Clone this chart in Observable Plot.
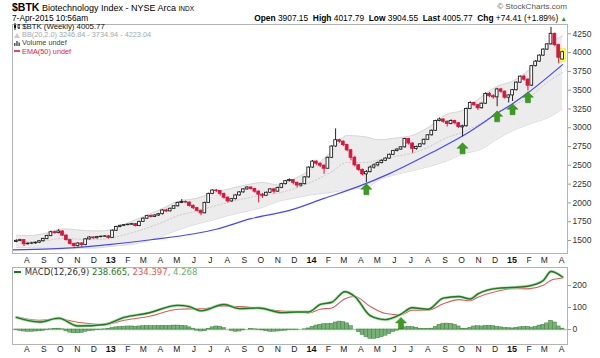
<!DOCTYPE html>
<html><head><meta charset="utf-8">
<script src="https://cdn.jsdelivr.net/npm/d3@7"></script>
<script src="https://cdn.jsdelivr.net/npm/@observablehq/plot@0.6"></script>
<style>
body{margin:0;width:600px;height:358px;overflow:hidden;background:#fff;font-family:"Liberation Sans",Arial,sans-serif;position:relative}
.abs{position:absolute;white-space:nowrap}
svg{display:block}
</style></head><body>
<div id="main" class="abs" style="left:0;top:20px"></div>
<div id="macd" class="abs" style="left:0;top:266px"></div>
<div id="overlay"></div>
<script>
// ---------- header / legend texts ----------
const symbolName = "$BTK";
const titleText = "Biotechnology Index - NYSE Arca";
const exchangeText = "INDX";
const dateText = "7-Apr-2015 10:56am";
const quoteLabels = ["Open", "High", "Low", "Last", "Chg"];
const quoteValues = ["3907.15", "4017.79", "3904.55", "4005.77", "+74.41 (+1.89%)"];
const legendMain = ["$BTK (Weekly) 4005.77", "BB(20,2.0) 3246.84 - 3734.94 - 4223.04", "Volume undef", "EMA(50) undef"];
const macdLegend = ["MACD(12,26,9)", "238.665,", "234.397,", "4.268"];

// ---------- weekly candles (Fridays 2012-07-13 .. 2015-04-03) ----------
const firstWeek = "2012-07-13", lastWeekStop = "2015-04-04";
const opens = [1480,1495,1505,1450,1458,1462,1470,1490,1520,1560,
1610,1598,1620,1565,1505,1455,1425,1460,1440,1515,
1540,1530,1545,1550,1555,1535,1630,1680,1695,1705,
1710,1718,1692,1748,1790,1825,1812,1832,1850,1900,
1888,1922,1955,2000,2012,2005,1960,1930,1895,1862,
2000,2120,2165,2158,2120,2070,2020,2050,2100,2140,
2180,2205,2185,2150,2110,2095,2135,2180,2150,2200,
2250,2290,2305,2268,2232,2250,2340,2470,2550,2522,
2495,2455,2600,2750,2835,2815,2770,2700,2600,2500,
2440,2380,2410,2470,2500,2530,2560,2590,2640,2690,
2710,2740,2850,2790,2720,2745,2780,2840,2900,2960,
3090,3110,3080,3050,3090,3060,3005,3020,3250,3330,
3300,3260,3320,3450,3420,3405,3510,3480,3400,3430,
3500,3600,3680,3640,3560,3820,3880,3960,4040,4110,
4250,4100,3907.15];
const highs = [1510,1515,1510,1468,1475,1480,1500,1530,1570,1625,
1625,1645,1630,1575,1515,1465,1470,1470,1525,1552,
1550,1555,1560,1565,1565,1640,1690,1705,1712,1720,
1728,1725,1755,1800,1835,1840,1845,1860,1910,1915,
1930,1965,2010,2045,2025,2010,1975,1940,1905,2010,
2130,2175,2180,2165,2130,2080,2060,2110,2150,2190,
2215,2215,2195,2160,2125,2145,2190,2190,2210,2262,
2300,2320,2310,2275,2262,2350,2480,2565,2560,2530,
2505,2610,2760,2985,2850,2825,2780,2710,2620,2510,
2450,2430,2490,2520,2545,2575,2600,2650,2700,2720,
2750,2860,2860,2800,2755,2790,2850,2910,2970,3100,
3130,3120,3090,3105,3100,3070,3035,3260,3345,3340,
3310,3330,3465,3470,3440,3525,3525,3490,3440,3510,
3610,3690,3700,3650,3830,3895,3970,4050,4120,4335,
4260,4110,4017.79];
const lows = [1470,1485,1420,1440,1445,1450,1460,1480,1510,1550,
1585,1590,1555,1495,1440,1410,1415,1400,1430,1505,
1515,1520,1535,1540,1520,1530,1620,1670,1685,1695,
1700,1680,1685,1740,1780,1800,1805,1820,1840,1870,
1880,1915,1945,1990,1995,1945,1910,1880,1830,1855,
1995,2110,2140,2090,2050,2000,2010,2040,2090,2130,
2170,2170,2130,2000,2060,2085,2125,2120,2140,2190,
2240,2280,2240,2200,2210,2240,2330,2460,2500,2470,
2380,2445,2590,2740,2795,2750,2680,2560,2480,2420,
2360,2270,2400,2450,2480,2520,2550,2580,2630,2680,
2700,2730,2770,2660,2700,2735,2770,2830,2890,2950,
3080,3060,3010,3040,3040,2990,2880,3010,3240,3285,
3230,3250,3310,3400,3380,3280,3460,3380,3330,3350,
3490,3590,3620,3490,3550,3810,3870,3950,4030,4100,
4080,3850,3904.55];
const closes = [1495,1505,1450,1458,1462,1470,1490,1520,1560,1610,
1598,1620,1565,1505,1455,1425,1460,1440,1515,1540,
1530,1545,1550,1555,1535,1630,1680,1695,1705,1710,
1718,1692,1748,1790,1825,1812,1832,1850,1900,1888,
1922,1955,2000,2012,2005,1960,1930,1895,1862,2000,
2120,2165,2158,2120,2070,2020,2050,2100,2140,2180,
2205,2185,2150,2110,2095,2135,2180,2150,2200,2250,
2290,2305,2268,2232,2250,2340,2470,2550,2522,2495,
2455,2600,2750,2835,2815,2770,2700,2600,2500,2440,
2380,2410,2470,2500,2530,2560,2590,2640,2690,2710,
2740,2850,2790,2720,2745,2780,2840,2900,2960,3090,
3110,3080,3050,3090,3060,3010,3020,3250,3330,3300,
3260,3320,3450,3420,3405,3510,3480,3400,3430,3500,
3600,3680,3640,3560,3820,3880,3960,4040,4110,4250,
4100,3931.36,4005.77];

// ---------- Bollinger Bands (20,2) ----------
const bandDates = ["2012-07-13","2012-08-03","2012-09-07","2012-10-05","2012-11-02","2012-12-07","2013-01-04","2013-02-01","2013-03-01","2013-04-05","2013-05-03","2013-06-07","2013-07-05","2013-08-02","2013-09-06","2013-10-04","2013-11-01","2013-11-29","2014-01-03","2014-02-07","2014-03-07","2014-04-11","2014-05-02","2014-06-06","2014-07-04","2014-08-01","2014-09-05","2014-10-03","2014-11-07","2014-12-05","2015-01-02","2015-02-06","2015-03-06","2015-04-03"];
const bandUpper = [1570,1565,1600,1655,1640,1626,1646,1735,1816,1926,2020,2063,2132,2183,2241,2272,2239,2312,2460,2690,2896,2877,2841,2865,2898,3000,3180,3230,3415,3551,3618,3809,4076,4223.04];
const bandMid = [1488,1485,1500,1528,1518,1513,1535,1588,1648,1743,1830,1892,1951,2006,2065,2106,2130,2186,2285,2415,2538,2538,2570,2622,2664,2740,2870,2940,3068,3200,3290,3435,3603,3734.94];
const bandLower = [1405,1405,1400,1400,1395,1400,1425,1440,1480,1560,1640,1720,1770,1830,1890,1940,2020,2060,2110,2140,2180,2200,2300,2380,2430,2480,2560,2650,2720,2850,2960,3060,3130,3246.84];

// ---------- EMA(50) ----------
const emaDates = ["2012-07-06","2012-09-14","2012-12-14","2013-03-15","2013-07-12","2013-09-13","2013-11-22","2014-01-24","2014-03-28","2014-05-23","2014-08-08","2014-10-10","2014-12-12","2015-01-02","2015-01-30","2015-04-03"];
const emaValues = [1375,1388,1435,1510,1650,1790,1900,2060,2220,2390,2670,2920,3225,3320,3465,3840];

// ---------- signal arrows ----------
const arrowDates = ["2014-04-11","2014-10-03","2014-12-05","2015-01-02","2015-01-30"];
const arrowTips = [2255,2800,3225,3320,3480];
const macdArrowDates = ["2014-06-13"];
const macdArrowTips = [55];

// ---------- MACD(12,26,9) ----------
const macdDates = ["2012-07-13","2012-08-24","2012-09-28","2012-11-02","2012-12-21","2013-01-25","2013-03-08","2013-05-03","2013-05-24","2013-06-14","2013-07-26","2013-08-23","2013-09-27","2013-11-08","2013-12-06","2013-12-27","2014-01-17","2014-02-07","2014-03-03","2014-03-21","2014-04-18","2014-05-16","2014-06-13","2014-07-03","2014-08-01","2014-08-29","2014-09-26","2014-10-17","2014-10-31","2014-12-05","2015-01-02","2015-01-30","2015-02-27","2015-03-13","2015-04-03"];
const macdValues = [55,34,52,16,23,55,74,110,104,85,114,95,98,77,80,80,114,124,172,150,63,45,70,99,92,143,150,139,162,187,191,197,223,264,238.665];
const signalValues = [58,42,48,33,22,42,58,92,94,94,107,104,97,84,81,75,92,98,140,150,105,73,67,88,88,117,136,131,147,174,186,185,201,224,234.397];
const histValues = [-3,-6,-9,-10,-10,-9,-8,-6,-3,1,
3,4,1,-8,-14,-17,-17,-15,-10,-7,
-5,-3,-1,1,3,7,10,12,13,14,
14,13,14,15,16,15,15,16,17,16,
17,18,18,17,15,10,4,-5,-9,-8,
2,10,14,13,7,0,-6,-10,-9,-4,
0,2,1,-1,-4,-8,-10,-10,-9,-7,
-5,-3,-2,-1,0,1,5,12,18,22,
24,25,26,32,36,34,28,15,0,-12,
-25,-35,-42,-43,-40,-35,-28,-20,-12,-5,
3,10,12,11,8,3,2,2,4,12,
22,26,27,26,22,14,4,2,8,14,
15,14,16,17,15,13,10,7,6,5,
8,10,12,12,9,12,18,22,28,40,
32,14,4.268];

// ---------- axes ----------
const priceTicks = [1500,1750,2000,2250,2500,2750,3000,3250,3500,3750,4000,4250];
const macdTicks = [0,100,200];
const monthInitials = ["J","F","M","A","M","J","J","A","S","O","N","D"];
const xDomain = [new Date("2012-07-06"), new Date("2015-04-12")];

// ---------- build tables ----------
const weeks = d3.utcFriday.range(new Date(firstWeek), new Date(lastWeekStop));
const candles = weeks.map((d, i) => ({date: d, open: opens[i], high: highs[i], low: lows[i], close: closes[i], hist: histValues[i]}));
const band = bandDates.map((d, i) => ({date: new Date(d), upper: bandUpper[i], mid: bandMid[i], lower: bandLower[i]}));
const ema = emaDates.map((d, i) => ({date: new Date(d), value: emaValues[i]}));
const arrows = arrowDates.map((d, i) => ({date: new Date(d), value: arrowTips[i]}));
const macdArrows = macdArrowDates.map((d, i) => ({date: new Date(d), value: macdArrowTips[i]}));
const macd = macdDates.map((d, i) => ({date: new Date(d), macd: macdValues[i], signal: signalValues[i]}));
const months = d3.utcMonth.range(new Date("2012-08-01"), new Date("2015-04-02"));
const monthTicks = months.map(d => ({date: d, year: d.getUTCMonth() === 0,
  label: d.getUTCMonth() === 0 ? String(d.getUTCFullYear()).slice(2) : monthInitials[d.getUTCMonth()]}));
const lastCandle = [candles[candles.length - 1]];

const UP = "#222", DOWN = "#dc143c";
const isUp = d => d.close >= d.open;
const half = (d, h) => d3.utcHour.offset(d, h);

const arrowSymbol = {draw(ctx, size) {
  const r = Math.sqrt(size / Math.PI);
  ctx.moveTo(0, 0); ctx.lineTo(r, r); ctx.lineTo(r * 0.45, r); ctx.lineTo(r * 0.45, 2 * r);
  ctx.lineTo(-r * 0.45, 2 * r); ctx.lineTo(-r * 0.45, r); ctx.lineTo(-r, r); ctx.closePath();
}};

const labelMarks = (dy) => [
  Plot.text(monthTicks.filter(d => !d.year), {x: "date", text: "label", frameAnchor: "bottom", dy, fontSize: 8.5, fill: "#222"}),
  Plot.text(monthTicks.filter(d => d.year), {x: "date", text: "label", frameAnchor: "bottom", dy, fontSize: 9, fontWeight: "bold", fill: "#111"})
];

const mainPlot = Plot.plot({
  width: 600, height: 248, marginLeft: 12, marginRight: 33, marginTop: 4, marginBottom: 15,
  style: {fontFamily: "Liberation Sans, Arial, sans-serif", background: "transparent"},
  x: {type: "utc", domain: xDomain, axis: null},
  y: {domain: [1327, 4374], axis: null},
  color: {type: "identity"},
  marks: [
    Plot.areaY(band, {x: "date", y1: "lower", y2: "upper", fill: "#ececec", curve: "monotone-x"}),
    Plot.lineY(band, {x: "date", y: "upper", stroke: "#d2d2d2", strokeWidth: 0.8, curve: "monotone-x"}),
    Plot.lineY(band, {x: "date", y: "lower", stroke: "#d2d2d2", strokeWidth: 0.8, curve: "monotone-x"}),
    Plot.lineY(band, {x: "date", y: "mid", stroke: "#c2c2c2", strokeWidth: 0.8, strokeDasharray: "1.5,2", curve: "monotone-x"}),
    Plot.lineY(ema, {x: "date", y: "value", stroke: "#4646ff", strokeWidth: 1.2, curve: "monotone-x"}),
    Plot.rect(lastCandle, {x1: d => half(d.date, -140), x2: d => half(d.date, 140), y1: d => d.low - 28, y2: d => d.high + 28, fill: "#ffff3a", stroke: "#e6e600", strokeWidth: 0.5}),
    Plot.ruleX(candles, {x: "date", y1: "low", y2: "high", stroke: d => isUp(d) ? UP : DOWN, strokeWidth: 1}),
    Plot.rect(candles, {x1: d => half(d.date, -60), x2: d => half(d.date, 60), y1: "open", y2: "close",
      fill: d => isUp(d) ? "#fff" : DOWN, stroke: d => isUp(d) ? UP : DOWN, strokeWidth: 0.9}),
    Plot.dot(arrows, {x: "date", y: "value", r: 5.5, symbol: arrowSymbol, fill: "#3a9e1c", stroke: "#2b7d12", strokeWidth: 0.5}),
    Plot.frame({stroke: "#b4b4b4"}),
    Plot.axisY({anchor: "right", ticks: priceTicks, tickFormat: d => String(d), tickSize: 3, tickPadding: 2, fontSize: 8.5, stroke: "#999", color: "#333"}),
    ...labelMarks(9)
  ]
});
document.getElementById("main").append(mainPlot);

const macdPlot = Plot.plot({
  width: 600, height: 92, marginLeft: 12, marginRight: 33, marginTop: 1, marginBottom: 14,
  style: {fontFamily: "Liberation Sans, Arial, sans-serif", background: "transparent"},
  x: {type: "utc", domain: xDomain, axis: null},
  y: {domain: [-68, 282], axis: null},
  marks: [
    Plot.ruleY([0], {stroke: "#a9d6a9", strokeWidth: 1.5}),
    Plot.rect(candles, {x1: d => half(d.date, -84), x2: d => half(d.date, 84), y1: d => 0, y2: "hist", fill: "#76b276", stroke: "#3e7e3e", strokeWidth: 0.5}),
    Plot.lineY(macd, {x: "date", y: "signal", stroke: "#e05a5a", strokeWidth: 1.1, curve: "monotone-x"}),
    Plot.lineY(macd, {x: "date", y: "macd", stroke: "#a8d6a8", strokeWidth: 2.8, curve: "monotone-x"}),
    Plot.lineY(macd, {x: "date", y: "macd", stroke: "#1e7a1e", strokeWidth: 1.4, curve: "monotone-x"}),
    Plot.dot(macdArrows, {x: "date", y: "value", r: 5.5, symbol: arrowSymbol, fill: "#3a9e1c", stroke: "#2b7d12", strokeWidth: 0.5}),
    Plot.frame({stroke: "#b4b4b4"}),
    Plot.axisY({anchor: "right", ticks: macdTicks, tickFormat: d => String(d), tickSize: 3, tickPadding: 2, fontSize: 8.5, stroke: "#999", color: "#333"}),
    ...labelMarks(7)
  ]
});
document.getElementById("macd").append(macdPlot);

// ---------- HTML header & legends ----------
const ov = document.getElementById("overlay");
const quoteHtml = quoteLabels.map((l, i) => `<b>${l}</b> ${quoteValues[i]}`).join("&nbsp;&nbsp;");
ov.innerHTML = `
<div class="abs" style="left:12px;top:1px;font-size:9px;line-height:12px;color:#000"><b style="font-size:10.5px">${symbolName}</b> ${titleText} <span style="font-size:6.5px">${exchangeText}</span></div>
<div class="abs" style="right:33px;top:1px;font-size:8.1px;line-height:12px;color:#555">© StockCharts.com</div>
<div class="abs" style="left:12px;top:12px;font-size:8.3px;line-height:12px;color:#000">${dateText}</div>
<div class="abs" style="right:33px;top:12px;font-size:8.4px;line-height:12px;color:#000">${quoteHtml} <span style="color:#2a8a2a;font-size:6.5px">▲</span></div>
<div class="abs" style="left:14px;top:23px;font-size:7.8px;line-height:8px;color:#111"><svg width="6" height="7" style="display:inline;vertical-align:-1px"><path d="M1 0V7M5 1V6" stroke="#111"/><rect x="0" y="2" width="2" height="3" fill="#111"/><rect x="4" y="2" width="2" height="3" fill="#fff" stroke="#111" stroke-width="0.8"/></svg> ${legendMain[0]}</div>
<div class="abs" style="left:14px;top:31px;font-size:7.3px;line-height:8px;color:#a3a8b0"><svg width="6" height="6" style="display:inline;vertical-align:-1px"><path d="M0 6L3 1L6 6Z" fill="#c8ccd2"/></svg> ${legendMain[1]}</div>
<div class="abs" style="left:14px;top:39px;font-size:7.3px;line-height:8px;color:#444"><svg width="6" height="6" style="display:inline;vertical-align:-1px"><path d="M0 6V3h1.5v3M2.2 6V1h1.5v5M4.4 6V2.5h1.5V6" fill="#555"/></svg> ${legendMain[2]}</div>
<div class="abs" style="left:14px;top:47.5px;font-size:7.3px;line-height:8px;color:#e8173f"><svg width="6" height="6" style="display:inline;vertical-align:0px"><path d="M0 3H6" stroke="#e8173f" stroke-width="1.6"/></svg> ${legendMain[3]}</div>
<div class="abs" style="left:14px;top:267px;font-family:'DejaVu Sans',sans-serif;font-size:8.5px;line-height:10px;color:#333"><svg width="8" height="6" style="display:inline;vertical-align:0px"><path d="M0 3H7" stroke="#1e7a1e" stroke-width="2"/></svg> ${macdLegend[0]} <span style="color:#1e7a1e">${macdLegend[1]}</span> <span style="color:#e05a5a">${macdLegend[2]}</span> <span style="color:#66b266">${macdLegend[3]}</span></div>
`;
</script>
</body></html>
